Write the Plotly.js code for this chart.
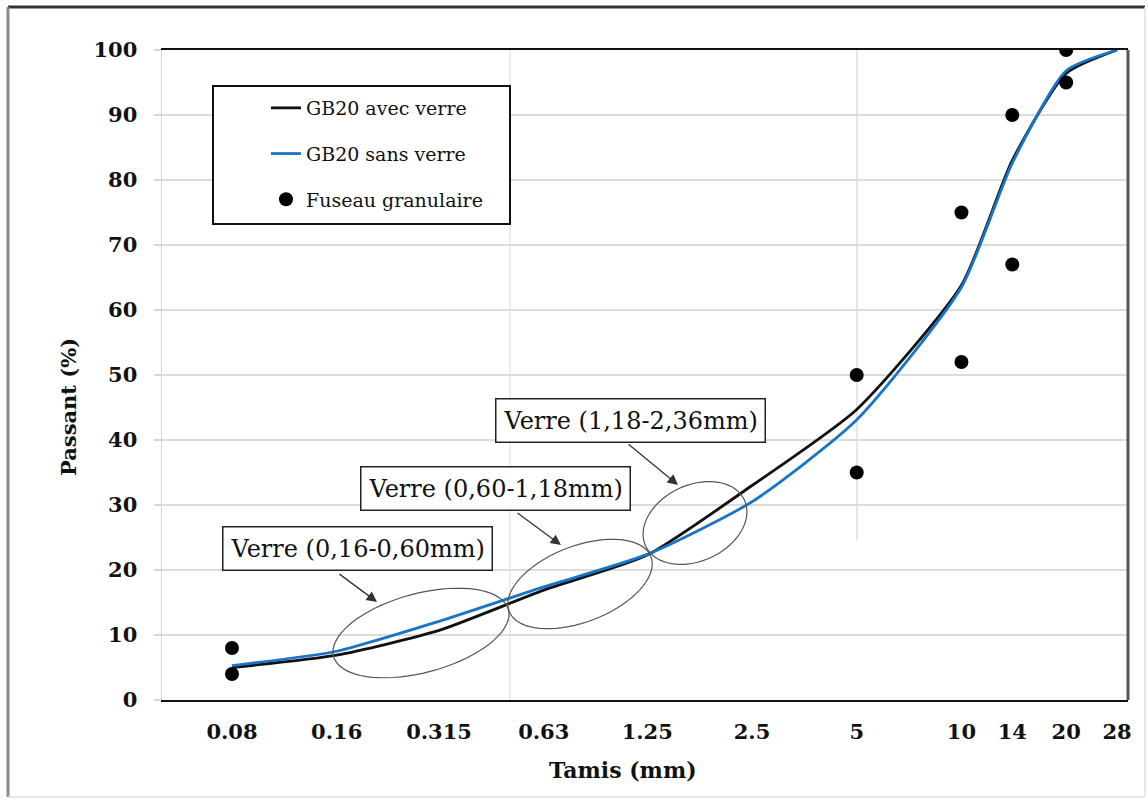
<!DOCTYPE html>
<html>
<head>
<meta charset="utf-8">
<script src="https://cdn.plot.ly/plotly-3.0.1.min.js"></script>
<style>
html,body{margin:0;padding:0;background:#ffffff;}
#chart{width:1148px;height:800px;}
</style>
</head>
<body>
<div id="chart"></div>
<script>
// ---- data ----
const sieveSizes   = [0.08, 0.16, 0.315, 0.63, 1.25, 2.5, 5, 10, 14, 20, 28];
const passWithGlass    = [5.0, 6.9, 10.7, 16.9, 22.3, 33.0, 44.7, 63.8, 83.0, 96.4, 100];
const passWithoutGlass = [5.3, 7.5, 12.1, 17.4, 22.4, 30.5, 43.1, 63.5, 82.6, 96.8, 100];
const envelopeSizes = [0.08, 0.08, 5, 5, 10, 10, 14, 14, 20, 20];
const envelopePass  = [8, 4, 50, 35, 75, 52, 90, 67, 100, 95];
const tickValues = [0.08, 0.16, 0.315, 0.63, 1.25, 2.5, 5, 10, 14, 20, 28];
const tickLabels = ['0.08', '0.16', '0.315', '0.63', '1.25', '2.5', '5', '10', '14', '20', '28'];
const seriesNames = ['GB20 avec verre', 'GB20 sans verre', 'Fuseau granulaire'];
const calloutTexts = ['Verre (0,16-0,60mm)', 'Verre (0,60-1,18mm)', 'Verre (1,18-2,36mm)'];

// ---- layout geometry ----
const M = {l: 162, r: 20, t: 50, b: 100};
const W = 1148, H = 800;
const PW = W - M.l - M.r, PH = H - M.t - M.b;
const px2x = p => (p - M.l) / PW;
const px2y = p => (M.t + PH - p) / PH;

function ellipsePath(cx, cy, a, b, deg) {
  const th = deg * Math.PI / 180;
  const n = 72;
  let d = '';
  for (let i = 0; i <= n; i++) {
    const t = 2 * Math.PI * i / n;
    const X = cx + a * Math.cos(th) * Math.cos(t) - b * Math.sin(th) * Math.sin(t);
    const Y = cy - (a * Math.sin(th) * Math.cos(t) + b * Math.cos(th) * Math.sin(t));
    d += (i === 0 ? 'M' : 'L') + px2x(X).toFixed(5) + ',' + px2y(Y).toFixed(5);
  }
  return d + 'Z';
}

const serif = 'DejaVu Serif, Liberation Serif, serif';

const traces = [
  {x: sieveSizes, y: passWithGlass, name: seriesNames[0], type: 'scatter', mode: 'lines',
   line: {color: '#111111', width: 2.8, shape: 'spline', smoothing: 0.6}, legendgroup: 'a'},
  {x: sieveSizes, y: passWithoutGlass, name: seriesNames[1], type: 'scatter', mode: 'lines',
   line: {color: '#1874c8', width: 2.8, shape: 'spline', smoothing: 0.6}, legendgroup: 'b'},
  {x: envelopeSizes, y: envelopePass, name: seriesNames[2], type: 'scatter', mode: 'markers',
   marker: {color: '#000000', size: 14}, legendgroup: 'c'}
];

const lineShape = (x0, y0, x1, y1, color, width) => ({type: 'line', xref: 'paper', yref: 'paper',
  x0: x0, y0: y0, x1: x1, y1: y1, line: {color: color, width: width}, layer: 'above'});

const shapes = [
  // faint vertical lines
  {type: 'line', xref: 'paper', yref: 'paper', x0: px2x(510), x1: px2x(510), y0: 0, y1: 1,
   line: {color: '#e6e6e6', width: 1.5}, layer: 'below'},
  {type: 'line', xref: 'paper', yref: 'paper', x0: px2x(857), x1: px2x(857), y0: px2y(540), y1: 1,
   line: {color: '#dedede', width: 1.5}, layer: 'below'},
  // right border of plot
  lineShape(1, 0, 1, 1, '#555555', 3),
  // legend frame
  {type: 'rect', xref: 'paper', yref: 'paper', x0: px2x(213), x1: px2x(510), y0: px2y(224), y1: px2y(86),
   line: {color: '#111111', width: 2}, fillcolor: '#ffffff', layer: 'above'},
  // outer frame
  lineShape(px2x(8), px2y(7), px2x(1145), px2y(7), '#333333', 3),
  lineShape(px2x(8), px2y(7), px2x(8), px2y(797), '#8a8a8a', 3),
  lineShape(px2x(1145), px2y(7), px2x(1145), px2y(797), '#e0e0e0', 1.5),
  lineShape(px2x(8), px2y(797), px2x(1145), px2y(797), '#e0e0e0', 1.5),
  // ellipses
  {type: 'path', xref: 'paper', yref: 'paper', path: ellipsePath(421, 633, 90.5, 39.5, 15),
   line: {color: '#555555', width: 1.2}, layer: 'above'},
  {type: 'path', xref: 'paper', yref: 'paper', path: ellipsePath(580, 584, 76, 38, 21),
   line: {color: '#555555', width: 1.2}, layer: 'above'},
  {type: 'path', xref: 'paper', yref: 'paper', path: ellipsePath(695, 523, 54.5, 38, 25),
   line: {color: '#555555', width: 1.2}, layer: 'above'}
];

const arrow = (tipX, tipY, tailX, tailY) => ({xref: 'paper', yref: 'paper', x: px2x(tipX), y: px2y(tipY),
  ax: tailX - tipX, ay: tailY - tipY, text: '', showarrow: true, arrowhead: 2, arrowsize: 1.6,
  arrowwidth: 1.3, arrowcolor: '#333333', standoff: 0});

const box = (cx, cy, txt) => ({xref: 'paper', yref: 'paper', x: px2x(cx), y: px2y(cy),
  xanchor: 'center', yanchor: 'middle', text: txt, showarrow: false,
  font: {family: serif, size: 24, color: '#111111'}, bgcolor: '#ffffff',
  bordercolor: '#222222', borderwidth: 1.5, borderpad: 7});

const annotations = [
  arrow(377, 602, 338, 573),
  arrow(561, 545, 516, 512),
  arrow(678, 485, 627, 443),
  box(357, 548, calloutTexts[0]),
  box(495, 488, calloutTexts[1]),
  box(630, 420, calloutTexts[2]),
  {xref: 'paper', yref: 'paper', x: px2x(68), y: px2y(407), text: 'Passant (%)', textangle: -90,
   showarrow: false, xanchor: 'center', yanchor: 'middle',
   font: {family: serif, size: 21, color: '#111111', weight: 'bold'}},
  {xref: 'paper', yref: 'paper', x: px2x(623), y: px2y(770), text: 'Tamis (mm)',
   showarrow: false, xanchor: 'center', yanchor: 'middle',
   font: {family: serif, size: 22, color: '#111111', weight: 'bold'}}
];

const layout = {
  width: W, height: H,
  margin: M,
  paper_bgcolor: '#ffffff', plot_bgcolor: '#ffffff',
  showlegend: true,
  legend: {x: px2x(266), y: px2y(89), xanchor: 'left', yanchor: 'top',
    bgcolor: 'rgba(0,0,0,0)', borderwidth: 0, tracegroupgap: 18, traceorder: 'grouped',
    font: {family: serif, size: 19, color: '#111111'}},
  xaxis: {type: 'log', range: [Math.log10(0.08) - 70 / 348, Math.log10(28) + 11 / 348],
    tickvals: tickValues, ticktext: tickLabels, showgrid: false, zeroline: false,
    showline: true, linecolor: '#111111', linewidth: 2, mirror: true, ticks: '',
    ticklabelstandoff: 12,
    tickfont: {family: serif, size: 21, color: '#111111', weight: 'bold'}},
  yaxis: {range: [0, 100], dtick: 10, tick0: 0, showgrid: true, gridcolor: '#dcdcdc', gridwidth: 1.5,
    zeroline: false, showline: true, linecolor: '#d6d6d6', linewidth: 1.5,
    ticks: 'outside', ticklen: 7, tickcolor: '#d6d6d6', tickwidth: 1.5, ticklabelstandoff: 12,
    tickfont: {family: serif, size: 21, color: '#111111', weight: 'bold'}},
  shapes: shapes,
  annotations: annotations
};

Plotly.newPlot('chart', traces, layout, {displayModeBar: false, staticPlot: true});
</script>
</body>
</html>
